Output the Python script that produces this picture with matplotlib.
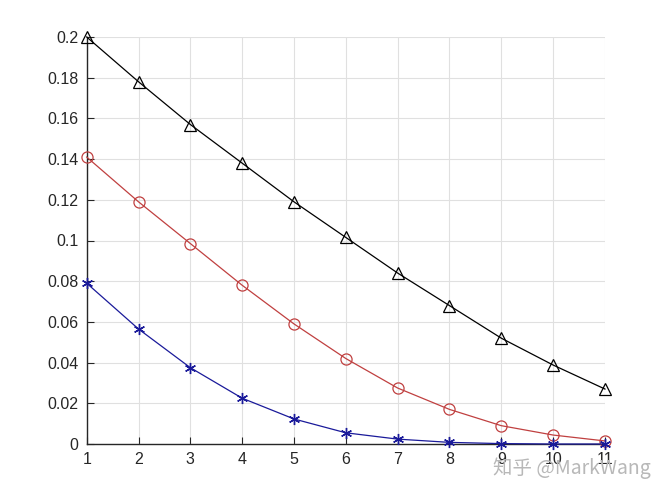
import matplotlib
matplotlib.use("Agg")
import matplotlib.pyplot as plt

x = [1, 2, 3, 4, 5, 6, 7, 8, 9, 10, 11]
black_tri = [0.200, 0.178, 0.157, 0.138, 0.119, 0.1015, 0.084, 0.068, 0.052, 0.0388, 0.027]
red_circ = [0.141, 0.119, 0.0985, 0.078, 0.059, 0.042, 0.0275, 0.017, 0.009, 0.0044, 0.0015]
blue_star = [0.079, 0.0565, 0.0375, 0.0225, 0.0123, 0.0055, 0.0024, 0.0008, 0.0002, 0.0, 0.0]
yticks = [0, 0.02, 0.04, 0.06, 0.08, 0.1, 0.12, 0.14, 0.16, 0.18, 0.2]
yticklabels = ["0", "0.02", "0.04", "0.06", "0.08", "0.1", "0.12", "0.14", "0.16", "0.18", "0.2"]

plt.rcParams['font.family'] = ['Liberation Sans', 'DejaVu Sans']

fig = plt.figure(figsize=(6.67, 5.0), dpi=100)
ax = fig.add_axes([0.130, 0.112, 0.777, 0.814])

ax.plot(x, black_tri, color='black', lw=0.9, marker='^', ms=8, mfc='none', mec='black', mew=0.9, clip_on=False, zorder=4)
ax.plot(x, red_circ, color='#c04040', lw=0.9, marker='o', ms=8, mfc='none', mec='#c04040', mew=0.9, clip_on=False, zorder=4)
ax.plot(x, blue_star, color='#1a1a9a', lw=0.9, marker=(6, 2, 0), ms=8, mec='#1a1a9a', mew=1.0, clip_on=False, zorder=4)

ax.set_xlim(1, 11)
ax.set_ylim(0, 0.2)
ax.set_xticks(x)
ax.set_yticks(yticks)
ax.set_yticklabels(yticklabels)
ax.grid(True, color='#e0e0e0', lw=0.8)
ax.set_axisbelow(True)
for s in ['top', 'right']:
    ax.spines[s].set_visible(False)
for s in ['left', 'bottom']:
    ax.spines[s].set_color('#262626')
    ax.spines[s].set_linewidth(1.0)
ax.tick_params(direction='in', length=5, colors='#262626', labelsize=11.5, pad=6)
ax.tick_params(axis='x', pad=6)

fig.text(0.975, 0.063, "知乎 @MarkWang", ha='right', va='center', fontsize=14,
         color='#b8b8b8', family=['Noto Sans CJK SC', 'DejaVu Sans'])

fig.savefig("out.png", dpi=100)
